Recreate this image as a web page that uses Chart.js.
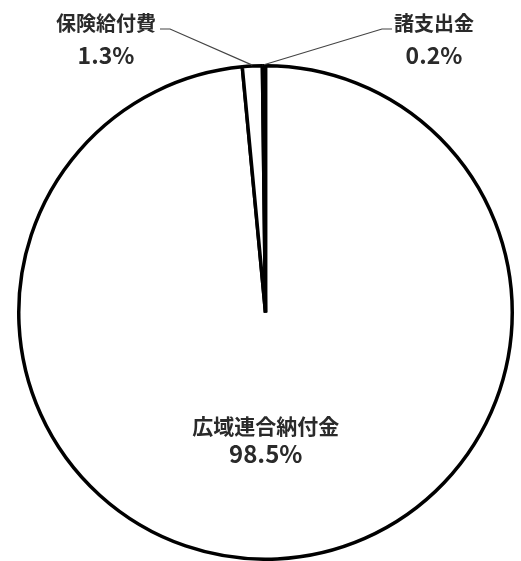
<!DOCTYPE html>
<html>
<head>
<meta charset="utf-8">
<script src="https://cdn.jsdelivr.net/npm/chart.js@4.4.0/dist/chart.umd.min.js"></script>
<style>
  html, body { margin: 0; padding: 0; background: #fff; }
  #wrap { width: 521px; height: 561px; }
</style>
</head>
<body>
<div id="wrap"><canvas id="pie"></canvas></div>
<script>
// data
const categories = ['広域連合納付金', '保険給付費', '諸支出金'];
const shares = [98.5, 1.3, 0.2];
const shareLabels = ['98.5%', '1.3%', '0.2%'];

const FONT = '"Noto Sans CJK JP", "Noto Sans", sans-serif';

// labels + leader lines
const labelPlugin = {
    id: 'pieLabels',
    afterDatasetsDraw(chart) {
        const ctx = chart.ctx;
        const arcs = chart.getDatasetMeta(0).data;
        ctx.save();
        ctx.fillStyle = '#2a2a2a';
        ctx.textAlign = 'center';
        ctx.textBaseline = 'middle';

        // big slice: inside
        const big = arcs[0];
        const midBig = (big.startAngle + big.endAngle) / 2;
        const bx = big.x + Math.cos(midBig) * big.outerRadius * 0.02;
        const by = big.y + Math.sin(midBig) * big.outerRadius * 0.5;
        ctx.font = 'bold 21px ' + FONT;
        ctx.fillText(categories[0], bx, by - 10);
        ctx.font = '600 24px ' + FONT;
        ctx.fillText(shareLabels[0], bx, by + 18);

        // small slices: outside, with leader lines
        const outside = [
            { i: 1, tx: 106, ty: 23, lx: 160, side: 1 },
            { i: 2, tx: 434, ty: 23, lx: 392, side: -1 }
        ];
        outside.forEach(o => {
            const a = arcs[o.i];
            const mid = (a.startAngle + a.endAngle) / 2;
            const px = a.x + Math.cos(mid) * (a.outerRadius + 1);
            const py = a.y + Math.sin(mid) * (a.outerRadius + 1);
            ctx.font = 'bold 20px ' + FONT;
            ctx.fillText(categories[o.i], o.tx, o.ty);
            ctx.font = '600 23px ' + FONT;
            ctx.fillText(shareLabels[o.i], o.tx, o.ty + 32);
            ctx.beginPath();
            ctx.strokeStyle = '#444';
            ctx.lineWidth = 1.2;
            ctx.moveTo(o.lx, o.ty + 6);
            ctx.lineTo(o.lx + o.side * 10, o.ty + 6);
            ctx.lineTo(px, py);
            ctx.stroke();
        });
        ctx.restore();
    }
};

new Chart(document.getElementById('pie'), {
    type: 'pie',
    data: {
        labels: categories,
        datasets: [{
            data: shares,
            backgroundColor: '#fff',
            borderColor: '#000',
            borderWidth: 3.5
        }]
    },
    options: {
        responsive: true,
        maintainAspectRatio: false,
        animation: false,
        layout: { padding: { top: 64, bottom: 0, left: 17, right: 7 } },
        plugins: {
            legend: { display: false },
            tooltip: { enabled: false }
        }
    },
    plugins: [labelPlugin]
});
</script>
</body>
</html>
